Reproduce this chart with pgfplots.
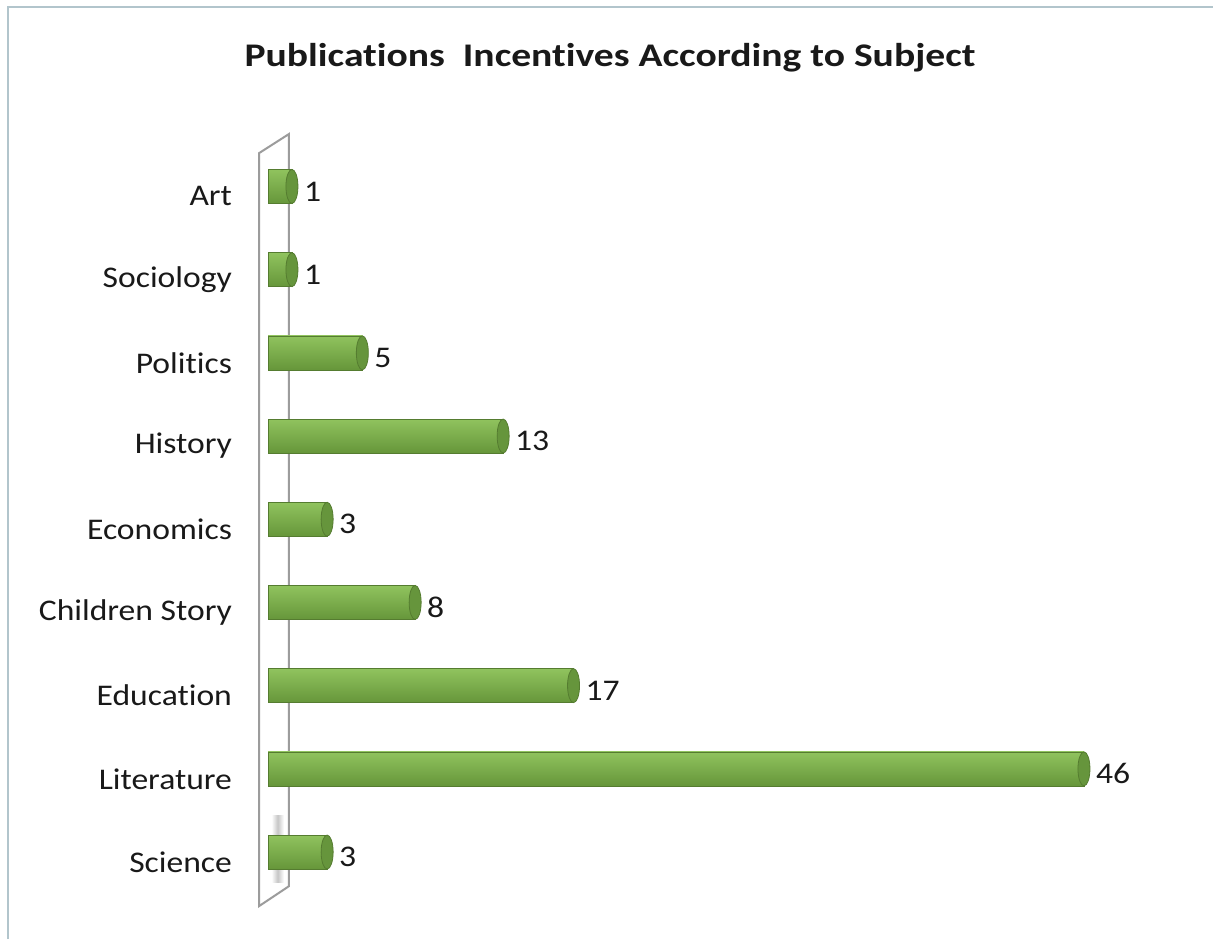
\documentclass[border=0pt]{standalone}
\usepackage{pgfplots}
\pgfplotsset{compat=1.18}
\usepackage{pgfplotstable}
\usepackage{fontspec}
\setmainfont{Carlito}[FakeStretch=1.12, Ligatures=NoCommon]
\newfontfamily\titlefont{Carlito}[FakeStretch=1.2, Ligatures=NoCommon]
\definecolor{bartop}{HTML}{90C35E}
\definecolor{barmid}{HTML}{A9D874}
\definecolor{barbot}{HTML}{66963A}
\definecolor{capfill}{HTML}{66953C}
\definecolor{capdraw}{HTML}{557C30}
\definecolor{wallgray}{HTML}{9C9C9C}
\definecolor{framecol}{HTML}{B2C5CC}
\pgfdeclareplotmark{cap}{%
  \pgfpathellipse{\pgfpointorigin}{\pgfqpoint{3pt}{0pt}}{\pgfqpoint{0pt}{8.5pt}}%
  \pgfusepathqfillstroke}
\pgfplotstableread{
idx val
0 3
1 46
2 17
3 8
4 3
5 13
6 5
7 1
8 1
}\datatable
\begin{document}
\begin{tikzpicture}
\fill[white] (0,0) rectangle (606.5pt,469.5pt);
\useasboundingbox (0,0) rectangle (606.5pt,469.5pt);
\draw[framecol, line width=1.2pt] (4pt,0) -- (4pt,466pt) -- (606.5pt,466pt);
\node[font=\titlefont\bfseries\fontsize{16.5}{19}\selectfont, anchor=base, text=black!90] at (305pt,436pt)
  {Publications\ \ Incentives According to Subject};
\begin{axis}[
  at={(120.8pt,10.2pt)}, anchor=south west,
  scale only axis,
  x=8.8pt, y=41.6pt,
  xmin=-1.5, xmax=50,
  ymin=-0.8, ymax=8.9,
  clip=false,
  axis line style={draw=none},
  xtick=\empty,
  ytick={0,...,8},
  yticklabels={Science,Literature,Education,Children Story,Economics,History,Politics,Sociology,Art},
  major tick length=0pt,
  yticklabel style={font=\fontsize{15}{18}\selectfont, text=black!90, xshift=-1.3pt, yshift=-5pt},
  /pgf/number format/assume math mode=true,
]
% back wall
\draw[wallgray, line width=1pt] (axis cs:-0.51,-0.65) -- (axis cs:-0.51,8.40) -- (axis cs:1.19,8.63) -- (axis cs:1.19,-0.41) -- cycle;
\shade[left color=white, right color=white, middle color=gray!45] (axis cs:0.2,-0.36) rectangle (axis cs:0.9,0.44);
% bars, one per category so each carries its own cylinder shading
\pgfplotsinvokeforeach{0,...,8}{
\addplot[xbar, bar width=17pt, draw=capdraw, line width=0.3pt,
  top color=bartop, middle color=barmid, bottom color=barbot,
  restrict y to domain=#1:#1]
  table[x expr=\thisrow{val}+0.36, y=idx] {\datatable};
}
% end caps + labels
\addplot[only marks, mark=cap, mark options={fill=capfill, draw=capdraw, line width=0.4pt},
  point meta=explicit,
  nodes near coords,
  nodes near coords style={anchor=west, font=\fontsize{15}{18}\selectfont, text=black!90, xshift=2.5pt, yshift=-2.5pt}]
  table[x expr=\thisrow{val}+0.36, y=idx, meta=val] {\datatable};
\end{axis}
\end{tikzpicture}
\end{document}
